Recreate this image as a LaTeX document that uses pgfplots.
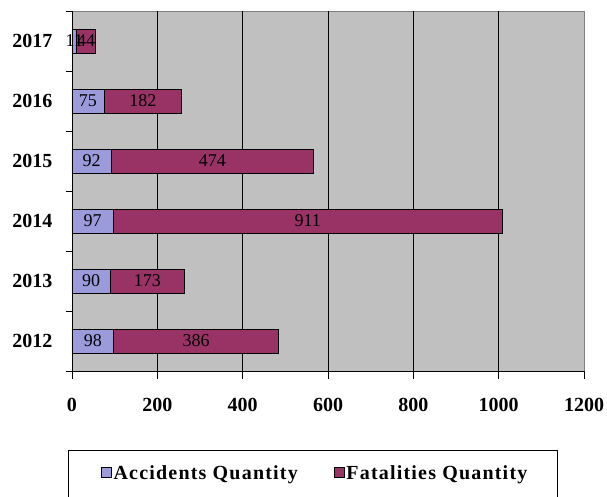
\documentclass[border=0pt]{standalone}
\usepackage{fontspec}
\setmainfont{Liberation Serif}
\usepackage{pgfplots}
\pgfplotsset{compat=1.18}
\definecolor{acc}{RGB}{155,155,220}
\definecolor{fat}{RGB}{153,51,102}
\definecolor{bg}{RGB}{192,192,192}
\begin{document}
\begin{tikzpicture}
\begin{axis}[
  scale only axis, width=512pt, height=360pt,
  xbar stacked, bar width=24pt,
  xmin=0, xmax=1200, ymin=0.5, ymax=6.5,
  axis x line*=bottom, axis y line*=left,
  axis line style={black, line width=0.8pt},
  axis background/.style={fill=bg, draw=gray, line width=0.8pt},
  /pgf/number format/assume math mode=true,
  /pgf/number format/1000 sep={},
  xtick={0,200,...,1200},
  extra x ticks={200,400,600,800,1000},
  extra x tick labels={},
  extra x tick style={grid=major, major tick length=0pt},
  major grid style={black, line width=0.8pt},
  ytick={1,...,6}, yticklabels={2012,2013,2014,2015,2016,2017},
  minor ytick={0.5,1.5,...,6.5},
  tick align=outside,
  major tick length=8pt, minor tick length=6pt,
  major y tick style={draw=none},
  tick style={black, line width=0.8pt},
  xticklabel style={font=\bfseries\fontsize{20}{24}\selectfont, yshift=-16pt},
  yticklabel style={font=\bfseries\fontsize{20}{24}\selectfont, xshift=-8pt},
  legend style={at={(0.4750,-0.2833)}, anchor=center, draw=none, fill=none,
    font=\bfseries\fontsize{20}{24}\selectfont\addfontfeatures{LetterSpace=6},
    /tikz/every even column/.append style={column sep=34pt}},
  legend columns=2,
  legend image code/.code={\draw[#1,draw=black,line width=0.6pt] (0pt,-4.5pt) rectangle (10pt,5.5pt);},
  nodes near coords,
  nodes near coords align={center},
  point meta=explicit,
  every node near coord/.append style={font=\fontsize{18}{20}\selectfont, text=black},
]
\addplot[fill=acc, draw=black, line width=0.8pt] coordinates {(98,1)[98] (90,2)[90] (97,3)[97] (92,4)[92] (75,5)[75] (11,6)[11]};
\addplot[fill=fat, draw=black, line width=0.8pt] coordinates {(386,1)[386] (173,2)[173] (911,3)[911] (474,4)[474] (182,5)[182] (44,6)[44]};
\legend{Accidents Quantity, Fatalities Quantity}
\coordinate (SW) at (rel axis cs:0,0);
\end{axis}
\draw[black, line width=0.8pt] ([shift={(-4pt,-79pt)}]SW) rectangle ([shift={(485pt,-128pt)}]SW);
\pgfresetboundingbox
\useasboundingbox ([shift={(-72pt,-125pt)}]SW) rectangle ([shift={(535pt,371pt)}]SW);
\end{tikzpicture}
\end{document}
